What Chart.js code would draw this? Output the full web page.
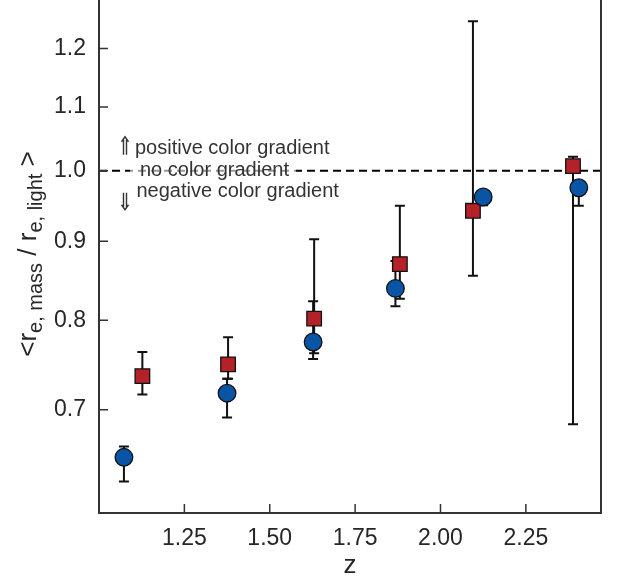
<!DOCTYPE html>
<html>
<head>
<meta charset="utf-8">
<script src="https://cdn.jsdelivr.net/npm/chart.js@4.4.0/dist/chart.umd.min.js"></script>
<style>
html, body { margin: 0; padding: 0; background: #fff; overflow: hidden; }
#wrap { position: absolute; left: 0; top: -20px; width: 623px; height: 602px; }
</style>
</head>
<body>
<div id="wrap"><canvas id="ratio-chart"></canvas></div>
<script>
// tick labels
const zTicks = [1.25, 1.50, 1.75, 2.00, 2.25];
const ratioTicks = [0.7, 0.8, 0.9, 1.0, 1.1, 1.2];

// blue circles
const zBlue = [1.073, 1.375, 1.627, 1.868, 2.125, 2.405];
const ratioBlue = [0.652, 0.7175, 0.7745, 0.839, 0.9616, 0.975];
const blueLo = [0.629, 0.692, 0.755, 0.817, 0.950, 0.949];
const blueHi = [0.6626, 0.733, 0.823, 0.874, 0.968, 0.985];

// red squares
const zRed = [1.127, 1.378, 1.630, 1.881, 2.095, 2.388];
const ratioRed = [0.736, 0.749, 0.802, 0.870, 0.942, 1.007];
const redLo = [0.716, 0.733, 0.7615, 0.826, 0.855, 0.685];
const redHi = [0.763, 0.780, 0.903, 0.949, 1.25, 1.021];

const FONT = '"Liberation Sans", Arial, sans-serif';
const TEXT = '#262626';

// dashed "no gradient" line + error bars, under the markers
const underlay = {
    id: 'underlay',
    beforeDatasetsDraw(chart) {
        const { ctx, chartArea, scales: { x, y } } = chart;
        ctx.save();
        const y1 = y.getPixelForValue(1.0);
        ctx.strokeStyle = '#000';
        ctx.lineWidth = 2;
        ctx.setLineDash([8, 5]);
        ctx.beginPath();
        ctx.moveTo(chartArea.left, y1);
        ctx.lineTo(chartArea.right, y1);
        ctx.stroke();
        ctx.setLineDash([]);

        ctx.strokeStyle = '#111';
        ctx.lineWidth = 2;
        const bars = (zs, lo, hi) => zs.forEach((z, i) => {
            const px = x.getPixelForValue(z);
            const a = y.getPixelForValue(lo[i]);
            const b = y.getPixelForValue(hi[i]);
            ctx.beginPath();
            ctx.moveTo(px, a); ctx.lineTo(px, b);
            ctx.moveTo(px - 5, a); ctx.lineTo(px + 5, a);
            ctx.moveTo(px - 5, b); ctx.lineTo(px + 5, b);
            ctx.stroke();
        });
        bars(zRed, redLo, redHi);
        bars(zBlue, blueLo, blueHi);
        ctx.restore();
    }
};

function arrow(ctx, cx, tip, tail) {
    // thin double arrow, tip can be above or below tail
    const d = tip < tail ? 1 : -1;
    ctx.beginPath();
    ctx.moveTo(cx - 3.5, tip + d * 5);
    ctx.lineTo(cx, tip);
    ctx.lineTo(cx + 3.5, tip + d * 5);
    ctx.moveTo(cx - 1.5, tip + d * 3);
    ctx.lineTo(cx - 1.5, tail);
    ctx.moveTo(cx + 1.5, tip + d * 3);
    ctx.lineTo(cx + 1.5, tail);
    ctx.stroke();
}

// frame, inward ticks, notes, y title
const overlay = {
    id: 'overlay',
    afterDraw(chart) {
        const { ctx, chartArea: ca, scales: { x, y } } = chart;
        ctx.save();

        // text notes around the 1.0 line
        const y1 = y.getPixelForValue(1.0);
        ctx.font = '20px ' + FONT;
        ctx.textBaseline = 'alphabetic';
        ctx.fillStyle = 'rgba(255,255,255,0.6)';
        const w = ctx.measureText('no color gradient').width;
        ctx.fillRect(ca.left + 31, y1 - 8, w + 17, 17);
        ctx.fillStyle = '#333';
        ctx.fillText('positive color gradient', ca.left + 36, y1 - 16.5);
        ctx.fillText('no color gradient', ca.left + 41, y1 + 5);
        ctx.fillText('negative color gradient', ca.left + 37.5, y1 + 26.5);
        ctx.strokeStyle = '#333';
        ctx.lineWidth = 1.4;
        arrow(ctx, ca.left + 26, y1 - 34, y1 - 16);
        arrow(ctx, ca.left + 26, y1 + 39, y1 + 22);

        // frame
        ctx.strokeStyle = '#333';
        ctx.lineWidth = 2;
        ctx.strokeRect(ca.left, ca.top, ca.right - ca.left, ca.bottom - ca.top);

        // inward ticks
        ctx.lineWidth = 1.5;
        ctx.beginPath();
        x.ticks.forEach(t => {
            const px = x.getPixelForValue(t.value);
            ctx.moveTo(px, ca.bottom);
            ctx.lineTo(px, ca.bottom - 9);
        });
        y.ticks.forEach(t => {
            const py = y.getPixelForValue(t.value);
            ctx.moveTo(ca.left, py);
            ctx.lineTo(ca.left + 9, py);
        });
        ctx.stroke();

        // y axis title with subscripts
        const parts = [['<r', 0], ['e, mass', 1], [' / r', 0], ['e, light', 1], [' >', 0]];
        const big = '26px ' + FONT, small = '20px ' + FONT;
        let total = 0;
        parts.forEach(p => { ctx.font = p[1] ? small : big; total += ctx.measureText(p[0]).width; });
        ctx.translate(36, (ca.top + ca.bottom) / 2);
        ctx.rotate(-Math.PI / 2);
        ctx.fillStyle = TEXT;
        let tx = -total / 2;
        parts.forEach(p => {
            ctx.font = p[1] ? small : big;
            ctx.fillText(p[0], tx, p[1] ? 6 : 0);
            tx += ctx.measureText(p[0]).width;
        });
        ctx.restore();
    }
};

const ctx = document.getElementById('ratio-chart').getContext('2d');
const chart = new Chart(ctx, {
    type: 'scatter',
    data: {
        datasets: [{
            label: 'circles',
            data: zBlue.map((z, i) => ({ x: z, y: ratioBlue[i] })),
            pointStyle: 'circle',
            pointRadius: 8.8,
            backgroundColor: '#0a54a6',
            borderColor: '#111',
            borderWidth: 1.3
        }, {
            label: 'squares',
            data: zRed.map((z, i) => ({ x: z, y: ratioRed[i] })),
            pointStyle: 'rect',
            pointRadius: 10.3,
            backgroundColor: '#b42128',
            borderColor: '#111',
            borderWidth: 1.3
        }]
    },
    options: {
        responsive: true,
        maintainAspectRatio: false,
        animation: false,
        layout: { padding: { top: 15, right: 22, left: 0, bottom: 0 } },
        plugins: {
            legend: { display: false },
            tooltip: { enabled: false }
        },
        scales: {
            x: {
                type: 'linear',
                min: 1.0,
                max: 2.47,
                bounds: 'data',
                grid: { display: false, drawTicks: false },
                border: { display: false },
                afterBuildTicks: s => { s.ticks = zTicks.map(v => ({ value: v })); },
                afterFit: s => { s.height = 69; s.paddingLeft = 0; s.paddingRight = 0; },
                ticks: {
                    padding: 12,
                    color: TEXT,
                    maxRotation: 0,
                    autoSkip: false,
                    font: { family: FONT, size: 23 },
                    callback: v => v.toFixed(2)
                },
                title: {
                    display: true,
                    text: 'z',
                    color: TEXT,
                    font: { family: FONT, size: 26 },
                    padding: { top: 0, bottom: 1 }
                }
            },
            y: {
                type: 'logarithmic',
                min: 0.6,
                max: 1.3,
                bounds: 'data',
                grid: { display: false, drawTicks: false },
                border: { display: false },
                afterBuildTicks: s => { s.ticks = ratioTicks.map(v => ({ value: v })); },
                afterFit: s => { s.width = 99; s.paddingTop = 0; s.paddingBottom = 0; },
                ticks: {
                    padding: 13,
                    color: TEXT,
                    autoSkip: false,
                    font: { family: FONT, size: 23 },
                    callback: v => Number(v).toFixed(1)
                }
            }
        }
    },
    plugins: [underlay, overlay]
});
</script>
</body>
</html>
